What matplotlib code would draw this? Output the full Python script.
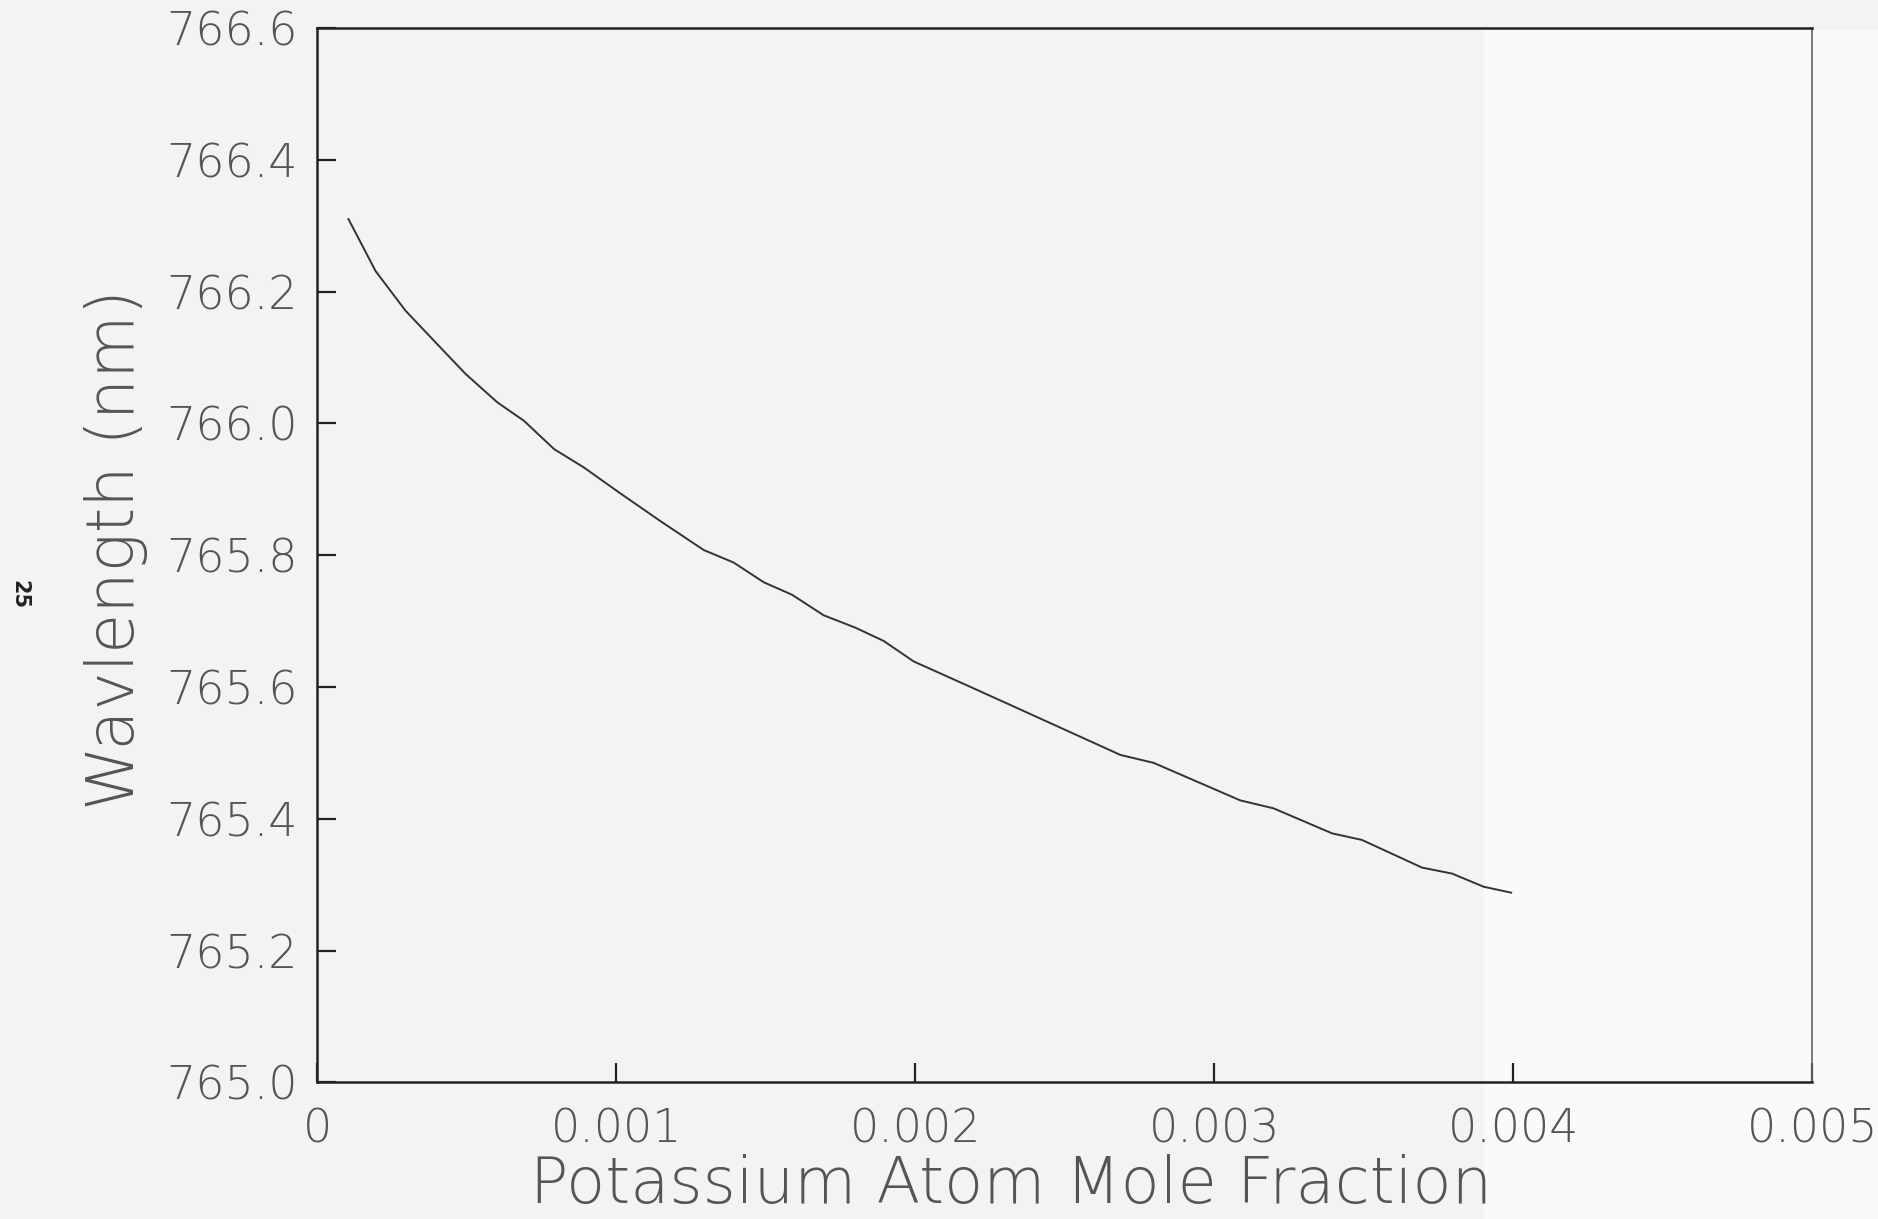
import matplotlib
matplotlib.use("Agg")
import matplotlib.pyplot as plt
from matplotlib.patches import Rectangle

# Data
mole_fraction = [0.000104, 0.000195, 0.000295, 0.000412, 0.000496, 0.000602, 0.000691,
                 0.000792, 0.000892, 0.001013, 0.00115, 0.001292, 0.001392, 0.001493,
                 0.001588, 0.001693, 0.0018, 0.001894, 0.001994, 0.0022, 0.002385,
                 0.002686, 0.002797, 0.003087, 0.003198, 0.003394, 0.003494, 0.003695,
                 0.003795, 0.003901, 0.003993]
wavelength = [766.310, 766.231, 766.171, 766.115, 766.075, 766.032, 766.004,
              765.961, 765.933, 765.894, 765.851, 765.808, 765.789, 765.759,
              765.740, 765.709, 765.690, 765.670, 765.639, 765.597, 765.559,
              765.497, 765.485, 765.428, 765.416, 765.378, 765.368, 765.326,
              765.317, 765.297, 765.288]

x_ticks = [0, 0.001, 0.002, 0.003, 0.004, 0.005]
x_tick_labels = ["0", "0.001", "0.002", "0.003", "0.004", "0.005"]
y_ticks = [765.0, 765.2, 765.4, 765.6, 765.8, 766.0, 766.2, 766.4, 766.6]
y_tick_labels = ["765.0", "765.2", "765.4", "765.6", "765.8", "766.0", "766.2", "766.4", "766.6"]

plt.rcParams['font.family'] = ['DejaVu Sans']

fig = plt.figure(figsize=(18.78, 12.19), dpi=100, facecolor='#f3f3f3')
# lighter (whiter) scan area on the right side of the page
fig.patches.append(Rectangle((0.79, 0.0), 0.21, 0.975, transform=fig.transFigure,
                             facecolor='#fafafa', edgecolor='none', zorder=-5))

ax = fig.add_axes([0.169, 0.112, 0.796, 0.865])
ax.set_facecolor('none')
ax.set_zorder(2)

ax.plot(mole_fraction, wavelength, color='#333333', lw=1.4)

ax.set_xlim(0, 0.005)
ax.set_ylim(765.0, 766.6)
ax.set_xticks(x_ticks)
ax.set_xticklabels(x_tick_labels)
ax.set_yticks(y_ticks)
ax.set_yticklabels(y_tick_labels)

ax.tick_params(axis='both', direction='in', length=14, width=1.6, color='#222222',
               labelsize=33, labelcolor='#555555')
ax.tick_params(axis='y', pad=14)
ax.tick_params(axis='x', pad=18)
for lab in ax.get_xticklabels() + ax.get_yticklabels():
    lab.set_fontweight('light')

for side in ['left', 'bottom', 'top']:
    ax.spines[side].set_linewidth(1.8)
    ax.spines[side].set_color('#222222')
ax.spines['right'].set_linewidth(1.2)
ax.spines['right'].set_color('#666666')

ax.set_xlabel("Potassium Atom Mole Fraction", fontsize=46, color='#555555',
              fontweight='light')
ax.xaxis.label.set_va('baseline')
ax.xaxis.set_label_coords(0.464, -0.114)
ax.set_ylabel("Wavlength (nm)", fontsize=47, color='#555555', fontweight='light')
ax.yaxis.set_label_coords(-0.113, 0.505)

fig.text(0.0105, 0.512, "25", rotation=-90, fontsize=15, fontweight='bold',
         color='#222222', ha='center', va='center')

fig.savefig("out.png", dpi=100, facecolor=fig.get_facecolor())
